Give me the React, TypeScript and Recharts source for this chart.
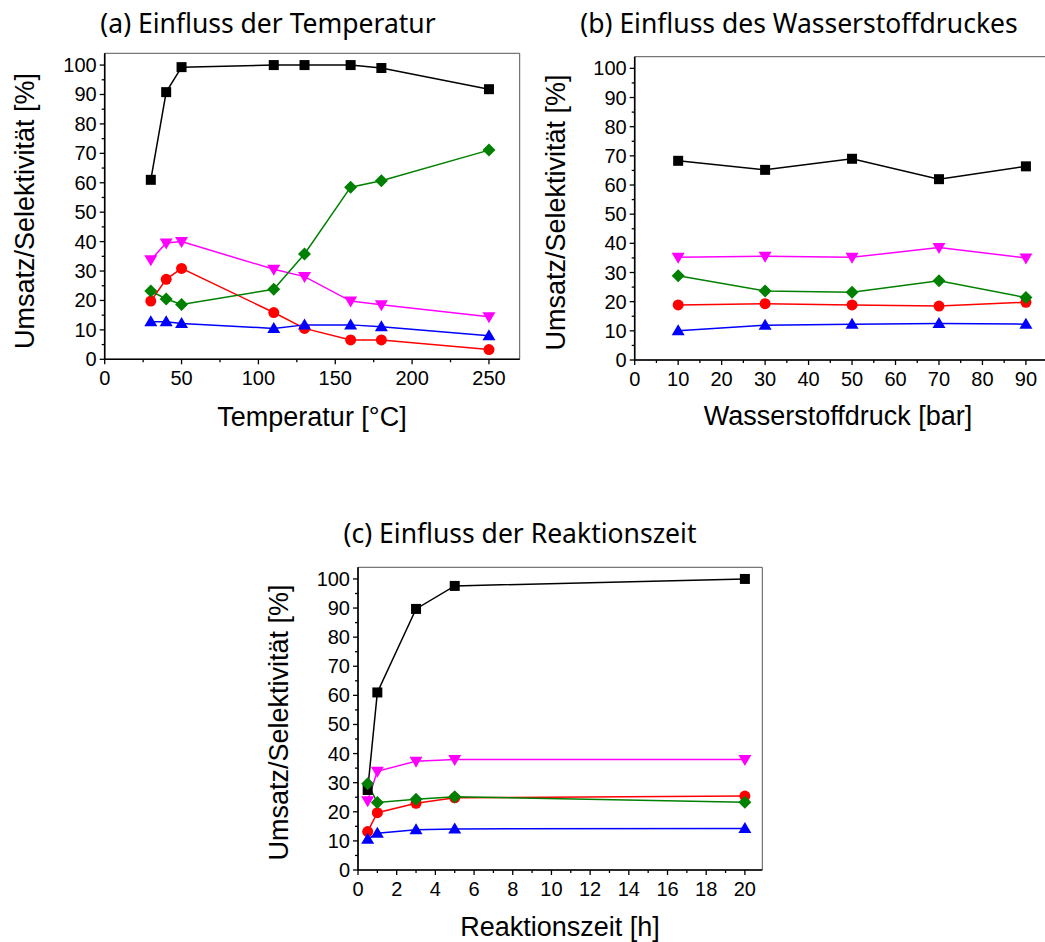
import { LineChart, Line, XAxis, YAxis, ReferenceArea } from 'recharts';

// (a) Einfluss der Temperatur
const tempX = [30, 40, 50, 110, 130, 160, 180, 250];
const tempUmsatz = [61, 90.8, 99.3, 100, 100, 100, 99, 91.8];
const tempRot = [19.8, 27.2, 30.9, 15.9, 10.5, 6.6, 6.6, 3.3];
const tempBlau = [12.8, 12.8, 12.2, 10.5, 11.7, 11.7, 11.1, 8.0];
const tempMagenta = [33.8, 39.5, 40, 30.6, 28.1, 19.8, 18.5, 14.5];
const tempGruen = [23.2, 20.5, 18.6, 23.8, 35.8, 58.5, 60.7, 71.1];

// (b) Einfluss des Wasserstoffdruckes
const druckX = [10, 30, 50, 70, 90];
const druckUmsatz = [68.3, 65.2, 69, 62, 66.4];
const druckRot = [18.9, 19.3, 18.9, 18.5, 19.8];
const druckBlau = [10, 11.9, 12.3, 12.5, 12.3];
const druckMagenta = [35.2, 35.6, 35.2, 38.6, 35];
const druckGruen = [28.9, 23.7, 23.2, 27.2, 21.4];

// (c) Einfluss der Reaktionszeit
const zeitX = [0.5, 1, 3, 5, 20];
const zeitUmsatz = [27.5, 61, 89.7, 97.6, 100];
const zeitRot = [13.2, 19.7, 22.9, 24.8, 25.4];
const zeitBlau = [10.6, 12.6, 13.8, 14.1, 14.3];
const zeitMagenta = [23.8, 33.9, 37.4, 38, 38];
const zeitGruen = [29.6, 23.2, 24.3, 25.2, 23.3];

// ticks (minor + major)
const yTicks = [0, 5, 10, 15, 20, 25, 30, 35, 40, 45, 50, 55, 60, 65, 70, 75, 80, 85, 90, 95, 100];
const tempTicks = [0, 25, 50, 75, 100, 125, 150, 175, 200, 225, 250];
const druckTicks = [0, 5, 10, 15, 20, 25, 30, 35, 40, 45, 50, 55, 60, 65, 70, 75, 80, 85, 90, 95];
const zeitTicks = [0, 1, 2, 3, 4, 5, 6, 7, 8, 9, 10, 11, 12, 13, 14, 15, 16, 17, 18, 19, 20];

const buildRows = (xs: number[], u: number[], r: number[], b: number[], m: number[], g: number[]) =>
  xs.map((x, i) => ({ x, umsatz: u[i], rot: r[i], blau: b[i], magenta: m[i], gruen: g[i] }));

const tempData = buildRows(tempX, tempUmsatz, tempRot, tempBlau, tempMagenta, tempGruen);
const druckData = buildRows(druckX, druckUmsatz, druckRot, druckBlau, druckMagenta, druckGruen);
const zeitData = buildRows(zeitX, zeitUmsatz, zeitRot, zeitBlau, zeitMagenta, zeitGruen);

const TICK_FONT = '"Liberation Sans", Arial, sans-serif';
const TITLE_FONT = '"Noto Sans", "DejaVu Sans", sans-serif';

type Shape = 'square' | 'circle' | 'up' | 'down' | 'diamond';

const makeDot = (shape: Shape, color: string) => (props: any) => {
  const { cx, cy, index } = props;
  if (cx == null || cy == null) return <g key={index} />;
  if (shape === 'square') return <rect key={index} x={cx - 5} y={cy - 5} width={10} height={10} fill={color} />;
  if (shape === 'circle') return <circle key={index} cx={cx} cy={cy} r={5.5} fill={color} />;
  if (shape === 'diamond')
    return <polygon key={index} points={`${cx},${cy - 6.5} ${cx + 6.5},${cy} ${cx},${cy + 6.5} ${cx - 6.5},${cy}`} fill={color} />;
  if (shape === 'up')
    return <polygon key={index} points={`${cx},${cy - 6.5} ${cx + 6.5},${cy + 4.5} ${cx - 6.5},${cy + 4.5}`} fill={color} />;
  return <polygon key={index} points={`${cx},${cy + 6.5} ${cx + 6.5},${cy - 4.5} ${cx - 6.5},${cy - 4.5}`} fill={color} />;
};

const makeXTick = (step: number) => (props: any) => {
  const { x, y, payload } = props;
  const major = payload.value % step === 0;
  return (
    <g>
      <line x1={x} x2={x} y1={y} y2={y + (major ? 5 : 3)} stroke="#000" strokeWidth={1.3} />
      {major && (
        <text x={x} y={y + 26} textAnchor="middle" fontSize={20} fontFamily={TICK_FONT} fill="#000">
          {payload.value}
        </text>
      )}
    </g>
  );
};

const YTick = (props: any) => {
  const { x, y, payload } = props;
  const major = payload.value % 10 === 0;
  return (
    <g>
      <line x1={x} x2={x - (major ? 5 : 3)} y1={y} y2={y} stroke="#000" strokeWidth={1.3} />
      {major && (
        <text x={x - 8} y={y + 7} textAnchor="end" fontSize={20} fontFamily={TICK_FONT} fill="#000">
          {payload.value}
        </text>
      )}
    </g>
  );
};

const series = [
  { key: 'umsatz', color: '#000000', shape: 'square' as Shape },
  { key: 'rot', color: '#ff0000', shape: 'circle' as Shape },
  { key: 'blau', color: '#0000ff', shape: 'up' as Shape },
  { key: 'magenta', color: '#ff00ff', shape: 'down' as Shape },
  { key: 'gruen', color: '#008000', shape: 'diamond' as Shape },
];

interface PanelProps {
  data: any[];
  width: number;
  height: number;
  margin: { top: number; right: number; bottom: number; left: number };
  xMax: number;
  xTicks: number[];
  majorStep: number;
}

function Panel({ data, width, height, margin, xMax, xTicks, majorStep }: PanelProps) {
  return (
    <LineChart width={width} height={height} data={data} margin={margin}>
      <ReferenceArea x1={0} x2={xMax} y1={0} y2={104} fill="none" stroke="#555" strokeWidth={1} />
      <XAxis
        dataKey="x"
        type="number"
        domain={[0, xMax]}
        ticks={xTicks}
        interval={0}
        height={30}
        tickSize={0}
        tickMargin={0}
        tickLine={false}
        axisLine={{ stroke: '#000', strokeWidth: 1.6 }}
        tick={makeXTick(majorStep)}
      />
      <YAxis
        type="number"
        domain={[0, 104]}
        ticks={yTicks}
        interval={0}
        width={50}
        tickSize={0}
        tickMargin={0}
        tickLine={false}
        axisLine={{ stroke: '#000', strokeWidth: 1.6 }}
        tick={YTick}
      />
      {series.map((s) => (
        <Line
          key={s.key}
          dataKey={s.key}
          stroke={s.color}
          strokeWidth={1.5}
          dot={makeDot(s.shape, s.color)}
          activeDot={false}
          isAnimationActive={false}
        />
      ))}
    </LineChart>
  );
}

export default function App() {
  const titleStyle = { fontFamily: TITLE_FONT, fontSize: 26.5, fill: '#000' };
  const axisStyle = { fontFamily: TICK_FONT, fontSize: 27, fill: '#000' };
  return (
    <div style={{ position: 'fixed', left: 0, top: 0, width: 1045, height: 942, overflow: 'hidden', background: '#fff' }}>
      <div style={{ position: 'absolute', left: 0, top: 0 }}>
        <Panel
          data={tempData}
          width={540}
          height={400}
          margin={{ top: 53.3, right: 20.3, bottom: 10.7, left: 54.7 }}
          xMax={270}
          xTicks={tempTicks}
          majorStep={50}
        />
      </div>
      <div style={{ position: 'absolute', left: 540, top: 0 }}>
        <Panel
          data={druckData}
          width={540}
          height={400}
          margin={{ top: 56.7, right: 28, bottom: 10, left: 44.7 }}
          xMax={96}
          xTicks={druckTicks}
          majorStep={10}
        />
      </div>
      <div style={{ position: 'absolute', left: 260, top: 510 }}>
        <Panel
          data={zeitData}
          width={540}
          height={432}
          margin={{ top: 57.3, right: 37.7, bottom: 42, left: 48 }}
          xMax={20.9}
          xTicks={zeitTicks}
          majorStep={2}
        />
      </div>
      <svg width={1045} height={942} style={{ position: 'absolute', left: 0, top: 0 }}>
        <text x={268} y={33} textAnchor="middle" {...titleStyle}>(a) Einfluss der Temperatur</text>
        <text x={799} y={33} textAnchor="middle" {...titleStyle}>(b) Einfluss des Wasserstoffdruckes</text>
        <text x={520} y={543} textAnchor="middle" {...titleStyle}>(c) Einfluss der Reaktionszeit</text>

        <text x={312} y={426} textAnchor="middle" {...axisStyle}>Temperatur [°C]</text>
        <text x={838} y={425} textAnchor="middle" {...axisStyle}>Wasserstoffdruck [bar]</text>
        <text x={560} y={936} textAnchor="middle" {...axisStyle}>Reaktionszeit [h]</text>

        <text transform="translate(34,211) rotate(-90)" textAnchor="middle" {...axisStyle}>Umsatz/Selektivität [%]</text>
        <text transform="translate(564.5,212.5) rotate(-90)" textAnchor="middle" {...axisStyle}>Umsatz/Selektivität [%]</text>
        <text transform="translate(287.5,722.5) rotate(-90)" textAnchor="middle" {...axisStyle}>Umsatz/Selektivität [%]</text>
      </svg>
    </div>
  );
}
